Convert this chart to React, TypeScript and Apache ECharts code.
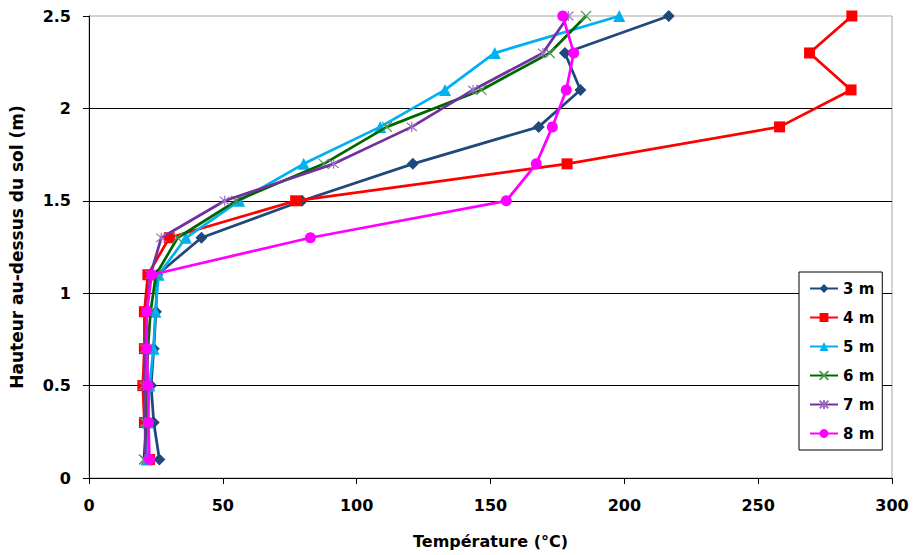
import React, { useEffect, useRef } from "react";
import * as echarts from "echarts";

const heights = [0.1, 0.3, 0.5, 0.7, 0.9, 1.1, 1.3, 1.5, 1.7, 1.9, 2.1, 2.3, 2.5];
const seriesNames = ["3 m", "4 m", "5 m", "6 m", "7 m", "8 m"];
const t3m = [26.3, 24.2, 23.2, 24.2, 25.0, 25.5, 42.0, 79.6, 121.0, 168.0, 183.6, 177.8, 216.6];
const t4m = [22.6, 20.7, 20.1, 20.7, 20.7, 22.0, 30.0, 77.2, 178.6, 258.0, 284.7, 269.2, 285.0];
const t5m = [21.5, 22.0, 22.6, 24.1, 24.8, 26.0, 36.2, 56.1, 80.2, 108.8, 133.0, 151.6, 198.1];
const t6m = [20.5, 21.5, 21.5, 22.0, 23.0, 25.0, 33.1, 55.0, 87.7, 111.3, 146.6, 172.1, 185.7];
const t7m = [21.0, 21.0, 20.5, 21.0, 21.5, 23.0, 27.0, 50.7, 91.4, 120.6, 143.5, 169.6, 179.1];
const t8m = [22.6, 22.2, 22.0, 21.6, 21.6, 23.4, 82.7, 155.9, 167.1, 173.1, 178.3, 181.1, 177.0];

const temps = [t3m, t4m, t5m, t6m, t7m, t8m];
const colors = ["#1F497D", "#FF0000", "#00B0F0", "#006600", "#7030A0", "#FF00FF"];
const markerColors = ["#1F497D", "#FF0000", "#00B0F0", "#4E9A4E", "#9A6FC4", "#FF00FF"];
const symbols = [
  "diamond",
  "rect",
  "triangle",
  "path://M0,0L10,10M10,0L0,10",
  "path://M0,0L10,10M10,0L0,10M5,-1L5,11",
  "circle",
];
const symbolSizes = [12, 11, 12, 10, 10, 11];

const FONT = "'DejaVu Sans', sans-serif";

export default function App() {
  const ref = useRef<HTMLDivElement>(null);
  useEffect(() => {
    if (!ref.current) return;
    const chart = echarts.init(ref.current, null, { renderer: "svg" });
    const series = seriesNames.map((name, i) => {
      const isStroke = i === 3 || i === 4;
      return {
        name,
        type: "line",
        data: heights.map((h, k) => [temps[i][k], h]),
        symbol: symbols[i],
        symbolSize: symbolSizes[i],
        showAllSymbol: true,
        lineStyle: { color: colors[i], width: 2.75 },
        itemStyle: isStroke
          ? { color: "none", borderColor: markerColors[i], borderWidth: 1.2 }
          : { color: markerColors[i], borderColor: markerColors[i], borderWidth: 0 },
        z: 2 + i,
      };
    });
    chart.setOption({
      animation: false,
      backgroundColor: "#ffffff",
      grid: {
        left: 86,
        right: 22,
        top: 16,
        bottom: 77,
        show: true,
        borderColor: "#a6a6a6",
        borderWidth: 1,
      },
      legend: {
        orient: "vertical",
        left: 799,
        top: 272,
        width: 84,
        padding: [9, 8, 9, 10],
        itemGap: 14,
        itemWidth: 28,
        itemHeight: 11,
        backgroundColor: "#ffffff",
        borderColor: "#000000",
        borderWidth: 1,
        borderRadius: 0,
        data: seriesNames,
        textStyle: { fontFamily: FONT, fontWeight: "bold", fontSize: 15, color: "#000" },
      },
      xAxis: {
        type: "value",
        min: 0,
        max: 300,
        interval: 50,
        name: "Température (°C)",
        nameLocation: "middle",
        nameGap: 55,
        nameTextStyle: { fontFamily: FONT, fontWeight: "bold", fontSize: 16, color: "#000" },
        axisLine: { show: true, onZero: false, lineStyle: { color: "#000", width: 1 } },
        axisTick: { show: true, inside: false, length: 6, lineStyle: { color: "#000" } },
        axisLabel: { margin: 19, fontFamily: FONT, fontWeight: "bold", fontSize: 16, color: "#000" },
        splitLine: { show: false },
      },
      yAxis: {
        type: "value",
        min: 0,
        max: 2.5,
        interval: 0.5,
        name: "Hauteur au-dessus du sol (m)",
        nameLocation: "middle",
        nameRotate: 90,
        nameGap: 64,
        nameTextStyle: { fontFamily: FONT, fontWeight: "bold", fontSize: 17, color: "#000" },
        axisLine: { show: true, onZero: false, lineStyle: { color: "#000", width: 1 } },
        axisTick: { show: true, inside: false, length: 6, lineStyle: { color: "#000" } },
        axisLabel: { margin: 18, fontFamily: FONT, fontWeight: "bold", fontSize: 16, color: "#000" },
        splitLine: {
          show: true,
          showMinLine: false,
          showMaxLine: false,
          lineStyle: { color: "#000", width: 1 },
        },
      },
      series,
    });
    return () => chart.dispose();
  }, []);
  return (
    <div
      ref={ref}
      style={{ position: "fixed", left: 0, top: 0, width: 914, height: 555, background: "#fff" }}
    />
  );
}
